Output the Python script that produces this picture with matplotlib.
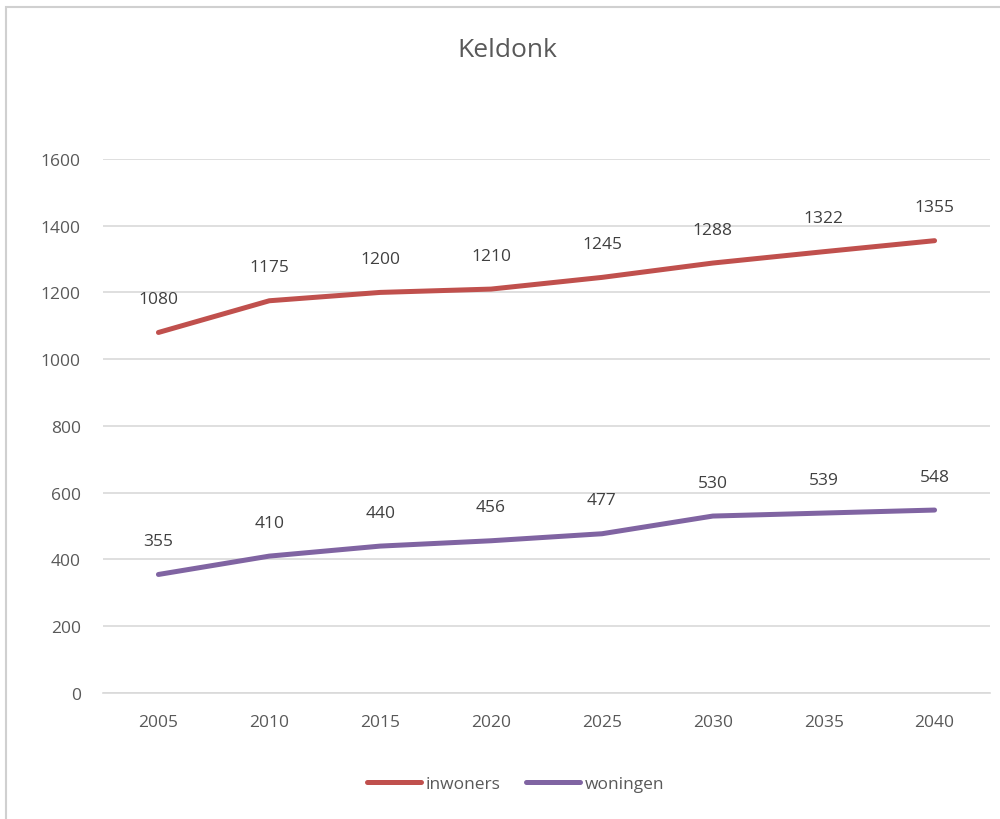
import matplotlib.pyplot as plt
from matplotlib.patches import Rectangle

# data
jaren = ['2005', '2010', '2015', '2020', '2025', '2030', '2035', '2040']
inwoners = [1080, 1175, 1200, 1210, 1245, 1288, 1322, 1355]
woningen = [355, 410, 440, 456, 477, 530, 539, 548]

grijs = '#595959'
plt.rcParams['font.family'] = ['Open Sans', 'DejaVu Sans']

fig = plt.figure(figsize=(10, 8.2), dpi=100)
ax = fig.add_axes([0.103, 0.1537, 0.887, 0.6513])

# rand om de grafiek
fig.patches.append(Rectangle((0.006, -0.01), 1.1, 1.0, transform=fig.transFigure,
                             fill=False, edgecolor='#D0D0D0', linewidth=1.5))

x = range(len(jaren))
ax.plot(x, inwoners, color='#C0504D', linewidth=3.6, solid_capstyle='round', label='inwoners')
ax.plot(x, woningen, color='#8064A2', linewidth=3.6, solid_capstyle='round', label='woningen')

for i in x:
    ax.annotate(str(inwoners[i]), (i, inwoners[i]), xytext=(0, 24), textcoords='offset points',
                ha='center', va='center', fontsize=12.5, color='#404040')
    ax.annotate(str(woningen[i]), (i, woningen[i]), xytext=(0, 24), textcoords='offset points',
                ha='center', va='center', fontsize=12.5, color='#404040')

ax.set_xlim(-0.5, 7.5)
ax.set_ylim(0, 1600)
ax.set_yticks(range(0, 1601, 200))
ax.set_xticks(list(x))
ax.set_xticklabels(jaren)
ax.grid(axis='y', color='#D9D9D9', linewidth=1.2)
ax.set_axisbelow(True)
for s in ['top', 'right', 'left']:
    ax.spines[s].set_visible(False)
ax.spines['bottom'].set_color('#D9D9D9')
ax.spines['bottom'].set_linewidth(1.2)
ax.tick_params(length=0, labelsize=12.5, colors=grijs, pad=15)
ax.tick_params(axis='y', pad=16)

fig.text(0.507, 0.938, 'Keldonk', ha='center', va='center', fontsize=19, color=grijs)

ax.legend(loc='center', bbox_to_anchor=(0.465, -0.17), ncol=2, frameon=False,
          fontsize=12.5, labelcolor=grijs, handlelength=3.1, handletextpad=0.25, columnspacing=1.5)

plt.savefig('out.png', dpi=100)
